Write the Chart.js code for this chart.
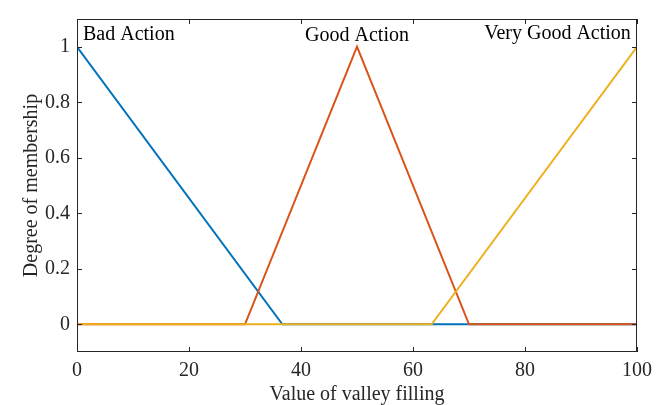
<!DOCTYPE html>
<html><head><meta charset="utf-8">
<script src="https://cdn.jsdelivr.net/npm/chart.js@4"></script>
<style>html,body{margin:0;padding:0;background:#fff}#w{width:662px;height:405px}</style>
</head><body><div id="w"><canvas id="c" width="662" height="405"></canvas></div>
<script>
const xBad = [0, 36.67, 100];
const yBad = [1, 0, 0];
const xGood = [0, 30, 50, 70, 100];
const yGood = [0, 0, 1, 0, 0];
const xVeryGood = [0, 63.33, 100];
const yVeryGood = [0, 0, 1];
const xTicks = [0, 20, 40, 60, 80, 100];
const yTicks = [0, 0.2, 0.4, 0.6, 0.8, 1];
const mfLabels = [
  {text: 'Bad Action', x: 1.07, y: 1.0246, align: 'left'},
  {text: 'Good Action', x: 50, y: 1.021, align: 'center'},
  {text: 'Very Good Action', x: 98.9, y: 1.028, align: 'right'}
];
const xTitle = 'Value of valley filling';
const yTitle = 'Degree of membership';

const FONT = '"Liberation Serif", "Times New Roman", serif';
const AX = '#262626';
function pts(xs, ys){ return xs.map((x,i)=>({x:x, y:ys[i]})); }

const deco = {
  id: 'deco',
  afterDatasetsDraw(chart){
    const {ctx, chartArea: a, scales: {x, y}} = chart;
    ctx.save();
    ctx.strokeStyle = AX; ctx.lineWidth = 1;
    ctx.strokeRect(a.left + 0.5, a.top + 0.5, a.right - a.left - 1, a.bottom - a.top - 1);
    const tl = 5;
    ctx.beginPath();
    xTicks.forEach(v => {
      const px = Math.round(x.getPixelForValue(v)) + 0.5;
      ctx.moveTo(px, a.bottom); ctx.lineTo(px, a.bottom - tl);
      ctx.moveTo(px, a.top); ctx.lineTo(px, a.top + tl);
    });
    yTicks.forEach(v => {
      const py = Math.round(y.getPixelForValue(v)) + 0.5;
      ctx.moveTo(a.left, py); ctx.lineTo(a.left + tl, py);
      ctx.moveTo(a.right, py); ctx.lineTo(a.right - tl, py);
    });
    ctx.stroke();
    ctx.fillStyle = '#000';
    ctx.font = '20px ' + FONT;
    ctx.textBaseline = 'alphabetic';
    mfLabels.forEach(l => {
      ctx.textAlign = l.align;
      ctx.fillText(l.text, x.getPixelForValue(l.x), y.getPixelForValue(l.y));
    });
    ctx.fillStyle = AX;
    ctx.font = '20px ' + FONT;
    ctx.textAlign = 'center';
    ctx.fillText(xTitle, (a.left + a.right) / 2, 400);
    ctx.translate(37, (a.top + a.bottom) / 2);
    ctx.rotate(-Math.PI / 2);
    ctx.fillText(yTitle, 0, 0);
    ctx.restore();
  }
};

new Chart(document.getElementById('c'), {
  type: 'line',
  data: {
    datasets: [
      {data: pts(xBad, yBad), borderColor: '#0072BD', order: 3},
      {data: pts(xGood, yGood), borderColor: '#D95319', order: 2},
      {data: pts(xVeryGood, yVeryGood), borderColor: '#EDB120', order: 1}
    ].map(d => Object.assign(d, {borderWidth: 2, pointRadius: 0, fill: false, tension: 0}))
  },
  options: {
    responsive: false, animation: false,
    layout: {padding: {top: 10, right: 25, left: 0, bottom: 0}},
    plugins: {legend: {display: false}, tooltip: {enabled: false}},
    scales: {
      x: {
        type: 'linear', min: 0, max: 100,
        afterBuildTicks: s => { s.ticks = xTicks.map(v => ({value: v})); },
        afterFit: s => { s.height = 53; },
        grid: {display: false, drawTicks: false}, border: {display: false},
        ticks: {color: AX, font: {family: FONT, size: 20}, padding: 7, maxRotation: 0}
      },
      y: {
        type: 'linear', min: -0.1, max: 1.1,
        afterBuildTicks: s => { s.ticks = yTicks.map(v => ({value: v})); },
        afterFit: s => { s.width = 77; },
        grid: {display: false, drawTicks: false}, border: {display: false},
        ticks: {color: AX, font: {family: FONT, size: 20}, padding: 7,
          callback: v => String(Math.round(v * 10) / 10)}
      }
    }
  },
  plugins: [deco]
});
</script></body></html>
